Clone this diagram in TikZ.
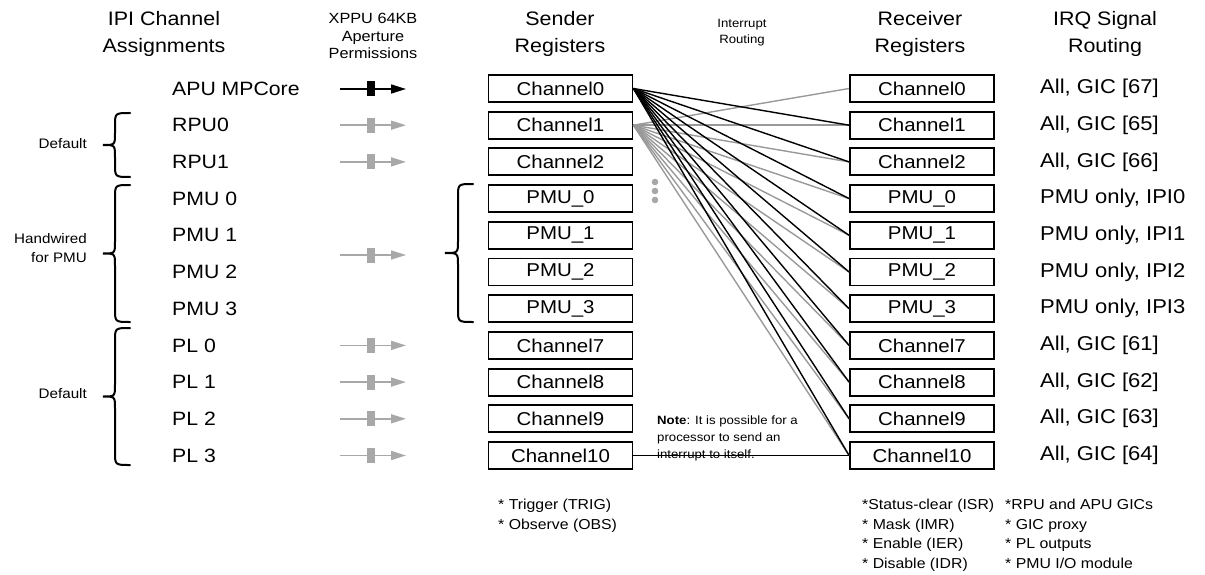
\documentclass[tikz,border=0pt]{standalone}
\usepackage{fontspec}
\setmainfont{Liberation Sans}[FakeStretch=1.1]
\usetikzlibrary{arrows.meta}
\definecolor{lgray}{HTML}{A8A8A8}
\definecolor{lnGray}{HTML}{999999}
\newcommand\drawcurly[4]{% xr, y1, y2, xl
  \pgfmathsetmacro\xv{#1-15}\pgfmathsetmacro\ym{(#2+#3)/2}
  \draw[bracestyle] (#1,#2) .. controls (\xv,#2) .. (\xv,#2+13) -- (\xv,\ym-12)
    .. controls (\xv,\ym) .. (#4,\ym) .. controls (\xv,\ym) .. (\xv,\ym+12)
    -- (\xv,#3-13) .. controls (\xv,#3) .. (#1,#3);}
\begin{document}
\begin{tikzpicture}[x=1pt,y=-1pt,
  regbox/.style={draw,line width=1.8pt,minimum width=144pt,minimum height=27pt,inner sep=0pt,font=\fontsize{18.6}{22}\selectfont},
  rowtxt/.style={anchor=west,inner sep=0pt,font=\fontsize{19.3}{22}\selectfont},
  irqtxt/.style={anchor=west,inner sep=0pt,font=\fontsize{20}{22}\selectfont},
  head/.style={align=center,inner sep=0pt,font=\fontsize{19.5}{27}\selectfont},
  smallhead/.style={align=center,inner sep=0pt,font=\fontsize{14.8}{17.5}\selectfont},
  bracestyle/.style={line width=2pt,line cap=round},
  bracelbl/.style={anchor=east,align=right,inner sep=0pt,font=\fontsize{13.8}{19}\selectfont},
  listtxt/.style={anchor=north west,align=left,inner sep=0pt,font=\fontsize{14.4}{19.5}\selectfont},
  blackln/.style={line width=1.4pt,black},
  grayln/.style={line width=1.4pt,lnGray},
]
\useasboundingbox (0,0) rectangle (1205,575);
% headers
\node[head] (h1) at (164,33.5) {IPI Channel\\Assignments};
\node[smallhead] (h2) at (373,36) {XPPU 64KB\\Aperture\\Permissions};
\node[head] (h3) at (560,33.5) {Sender\\Registers};
\node[align=center,inner sep=0pt,font=\fontsize{12}{16}\selectfont] (h4) at (742,33) {Interrupt\\Routing};
\node[head] (h5) at (920,33.5) {Receiver\\Registers};
\node[head] (h6) at (1105,33.5) {IRQ Signal\\Routing};
% rows
\foreach \i/\lab/\snd/\irq in {0/APU MPCore/Channel0/{All, GIC [67]},1/RPU0/Channel1/{All, GIC [65]},2/RPU1/Channel2/{All, GIC [66]},3/PMU 0/PMU\_0/{PMU only, IPI0},4/PMU 1/PMU\_1/{PMU only, IPI1},5/PMU 2/PMU\_2/{PMU only, IPI2},6/PMU 3/PMU\_3/{PMU only, IPI3},7/PL 0/Channel7/{All, GIC [61]},8/PL 1/Channel8/{All, GIC [62]},9/PL 2/Channel9/{All, GIC [63]},10/PL 3/Channel10/{All, GIC [64]}}{
  \pgfmathsetmacro\yy{88.5+36.7*\i}
  \node[rowtxt] (a\i) at (172,\yy) {\lab};
  \node[regbox] (s\i) at (560.5,\yy) {\snd};
  \node[regbox] (r\i) at (922,\yy) {\snd};
  \node[irqtxt] (q\i) at (1040,\yy) {\irq};
}
% permission arrows
\draw[line width=1.6pt,-{Triangle[length=15pt,width=9pt]}] (340,89) -- (406,89);
\fill (367,81.5) rectangle (375,96.5);
\foreach \yy in {125.2,161.9,255,345.4,382.1,418.8,455.5}{
  \draw[line width=1.6pt,lgray,-{Triangle[length=15pt,width=9pt]}] (340,\yy) -- (406,\yy);
  \fill[lgray] (367,\yy-7.5) rectangle (375,\yy+7.5);
}
% braces
\drawcurly{130}{113}{177}{103}
\drawcurly{130}{185}{322}{103}
\drawcurly{130}{328}{465}{103}
\drawcurly{473}{184}{322}{445}
\node[bracelbl] (b1) at (87,144) {Default};
\node[bracelbl] (b2) at (87,248) {Handwired\\for PMU};
\node[bracelbl] (b3) at (87,394) {Default};
% dots
\foreach \yy in {182,191,200} \fill[lgray] (655,\yy) circle (3.3pt);
% routing lines
\foreach \i in {0,...,10} \draw[grayln] (s1.east) -- (r\i.west);
\foreach \i in {1,...,10} \draw[blackln] (s0.east) -- (r\i.west);
% note
\node[anchor=north west,align=left,inner sep=0pt,font=\fontsize{12}{17}\selectfont] (note) at (657,416) {\textbf{Note}: It is possible for a\\processor to send an\\interrupt to itself.};
\draw[blackln] (s10.east) -- (r10.west);
% bottom lists
\node[listtxt] (l1) at (498,499) {* Trigger (TRIG)\\* Observe (OBS)};
\node[listtxt] (l2) at (862,499) {*Status-clear (ISR)\\* Mask (IMR)\\* Enable (IER)\\* Disable (IDR)};
\node[listtxt] (l3) at (1005,499) {*RPU and APU GICs\\* GIC proxy\\* PL outputs\\* PMU I/O module};
\end{tikzpicture}
\end{document}
